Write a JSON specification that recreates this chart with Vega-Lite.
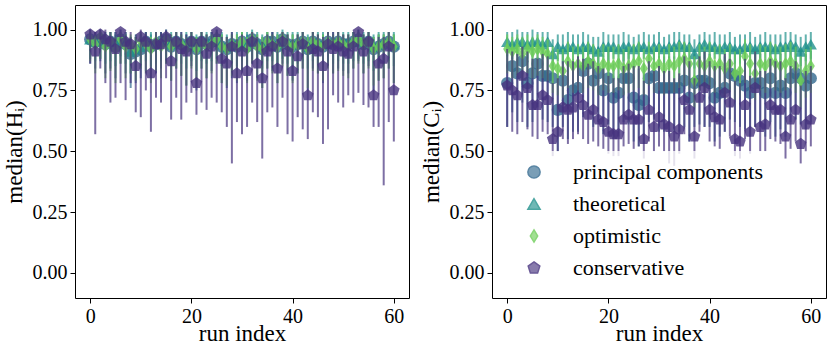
{
"$schema":"https://vega.github.io/schema/vega-lite/v6.json",
"autosize":{"type":"none"},
"padding":{"left":75,"top":5,"right":4,"bottom":48},
"params":[{"name":"width","value":751},{"name":"height","value":293}],
"background":"white",
"spacing":83,
"bounds":"flush",
"datasets":{
"H":[
{"s":"pc","run":0,"med":0.96,"lo":0.86,"hi":0.99},{"s":"pc","run":1,"med":0.95,"lo":0.84,"hi":0.99},{"s":"pc","run":2,"med":0.96,"lo":0.87,"hi":0.99},{"s":"pc","run":3,"med":0.94,"lo":0.82,"hi":0.98},{"s":"pc","run":4,"med":0.95,"lo":0.84,"hi":0.99},{"s":"pc","run":5,"med":0.93,"lo":0.80,"hi":0.98},{"s":"pc","run":6,"med":0.96,"lo":0.86,"hi":0.99},{"s":"pc","run":7,"med":0.94,"lo":0.82,"hi":0.98},{"s":"pc","run":8,"med":0.90,"lo":0.76,"hi":0.97},{"s":"pc","run":9,"med":0.91,"lo":0.78,"hi":0.97},
{"s":"pc","run":10,"med":0.92,"lo":0.80,"hi":0.98},{"s":"pc","run":11,"med":0.95,"lo":0.83,"hi":0.99},{"s":"pc","run":12,"med":0.93,"lo":0.80,"hi":0.98},{"s":"pc","run":13,"med":0.94,"lo":0.82,"hi":0.98},{"s":"pc","run":14,"med":0.95,"lo":0.84,"hi":0.99},{"s":"pc","run":15,"med":0.96,"lo":0.86,"hi":0.99},{"s":"pc","run":16,"med":0.93,"lo":0.79,"hi":0.98},{"s":"pc","run":17,"med":0.95,"lo":0.84,"hi":0.99},{"s":"pc","run":18,"med":0.94,"lo":0.81,"hi":0.98},{"s":"pc","run":19,"med":0.93,"lo":0.77,"hi":0.98},
{"s":"pc","run":20,"med":0.95,"lo":0.85,"hi":0.99},{"s":"pc","run":21,"med":0.92,"lo":0.75,"hi":0.97},{"s":"pc","run":22,"med":0.95,"lo":0.84,"hi":0.99},{"s":"pc","run":23,"med":0.94,"lo":0.80,"hi":0.98},{"s":"pc","run":24,"med":0.95,"lo":0.83,"hi":0.99},{"s":"pc","run":25,"med":0.96,"lo":0.86,"hi":0.99},{"s":"pc","run":26,"med":0.93,"lo":0.78,"hi":0.98},{"s":"pc","run":27,"med":0.92,"lo":0.76,"hi":0.97},{"s":"pc","run":28,"med":0.94,"lo":0.80,"hi":0.98},{"s":"pc","run":29,"med":0.93,"lo":0.78,"hi":0.98},
{"s":"pc","run":30,"med":0.95,"lo":0.83,"hi":0.99},{"s":"pc","run":31,"med":0.93,"lo":0.79,"hi":0.98},{"s":"pc","run":32,"med":0.96,"lo":0.86,"hi":0.99},{"s":"pc","run":33,"med":0.94,"lo":0.80,"hi":0.98},{"s":"pc","run":34,"med":0.92,"lo":0.76,"hi":0.97},{"s":"pc","run":35,"med":0.95,"lo":0.84,"hi":0.99},{"s":"pc","run":36,"med":0.95,"lo":0.83,"hi":0.99},{"s":"pc","run":37,"med":0.93,"lo":0.78,"hi":0.98},{"s":"pc","run":38,"med":0.96,"lo":0.86,"hi":0.99},{"s":"pc","run":39,"med":0.94,"lo":0.81,"hi":0.98},
{"s":"pc","run":40,"med":0.93,"lo":0.79,"hi":0.98},{"s":"pc","run":41,"med":0.94,"lo":0.82,"hi":0.98},{"s":"pc","run":42,"med":0.95,"lo":0.84,"hi":0.99},{"s":"pc","run":43,"med":0.92,"lo":0.75,"hi":0.97},{"s":"pc","run":44,"med":0.95,"lo":0.84,"hi":0.99},{"s":"pc","run":45,"med":0.94,"lo":0.82,"hi":0.98},{"s":"pc","run":46,"med":0.93,"lo":0.78,"hi":0.98},{"s":"pc","run":47,"med":0.95,"lo":0.85,"hi":0.99},{"s":"pc","run":48,"med":0.94,"lo":0.82,"hi":0.98},{"s":"pc","run":49,"med":0.95,"lo":0.84,"hi":0.99},
{"s":"pc","run":50,"med":0.94,"lo":0.83,"hi":0.98},{"s":"pc","run":51,"med":0.94,"lo":0.82,"hi":0.98},{"s":"pc","run":52,"med":0.95,"lo":0.84,"hi":0.99},{"s":"pc","run":53,"med":0.96,"lo":0.87,"hi":0.99},{"s":"pc","run":54,"med":0.94,"lo":0.82,"hi":0.98},{"s":"pc","run":55,"med":0.95,"lo":0.85,"hi":0.99},{"s":"pc","run":56,"med":0.92,"lo":0.75,"hi":0.97},{"s":"pc","run":57,"med":0.93,"lo":0.79,"hi":0.98},{"s":"pc","run":58,"med":0.94,"lo":0.80,"hi":0.98},{"s":"pc","run":59,"med":0.95,"lo":0.84,"hi":0.99},{"s":"pc","run":60,"med":0.93,"lo":0.78,"hi":0.98},
{"s":"th","run":0,"med":0.96,"lo":0.88,"hi":1.0},{"s":"th","run":1,"med":0.95,"lo":0.87,"hi":0.99},{"s":"th","run":2,"med":0.96,"lo":0.88,"hi":1.0},{"s":"th","run":3,"med":0.95,"lo":0.86,"hi":0.99},{"s":"th","run":4,"med":0.95,"lo":0.87,"hi":0.99},{"s":"th","run":5,"med":0.94,"lo":0.85,"hi":0.99},{"s":"th","run":6,"med":0.96,"lo":0.89,"hi":1.0},{"s":"th","run":7,"med":0.95,"lo":0.86,"hi":0.99},{"s":"th","run":8,"med":0.91,"lo":0.82,"hi":0.97},{"s":"th","run":9,"med":0.92,"lo":0.83,"hi":0.98},
{"s":"th","run":10,"med":0.93,"lo":0.84,"hi":0.98},{"s":"th","run":11,"med":0.95,"lo":0.87,"hi":0.99},{"s":"th","run":12,"med":0.94,"lo":0.85,"hi":0.99},{"s":"th","run":13,"med":0.95,"lo":0.86,"hi":0.99},{"s":"th","run":14,"med":0.95,"lo":0.87,"hi":0.99},{"s":"th","run":15,"med":0.96,"lo":0.88,"hi":1.0},{"s":"th","run":16,"med":0.94,"lo":0.85,"hi":0.99},{"s":"th","run":17,"med":0.95,"lo":0.87,"hi":0.99},{"s":"th","run":18,"med":0.95,"lo":0.86,"hi":0.99},{"s":"th","run":19,"med":0.94,"lo":0.84,"hi":0.99},
{"s":"th","run":20,"med":0.95,"lo":0.87,"hi":0.99},{"s":"th","run":21,"med":0.93,"lo":0.83,"hi":0.98},{"s":"th","run":22,"med":0.95,"lo":0.87,"hi":0.99},{"s":"th","run":23,"med":0.95,"lo":0.86,"hi":0.99},{"s":"th","run":24,"med":0.95,"lo":0.87,"hi":0.99},{"s":"th","run":25,"med":0.96,"lo":0.88,"hi":1.0},{"s":"th","run":26,"med":0.94,"lo":0.85,"hi":0.99},{"s":"th","run":27,"med":0.93,"lo":0.84,"hi":0.98},{"s":"th","run":28,"med":0.95,"lo":0.86,"hi":0.99},{"s":"th","run":29,"med":0.94,"lo":0.85,"hi":0.99},
{"s":"th","run":30,"med":0.95,"lo":0.87,"hi":0.99},{"s":"th","run":31,"med":0.94,"lo":0.85,"hi":0.99},{"s":"th","run":32,"med":0.96,"lo":0.88,"hi":1.0},{"s":"th","run":33,"med":0.95,"lo":0.86,"hi":0.99},{"s":"th","run":34,"med":0.93,"lo":0.84,"hi":0.98},{"s":"th","run":35,"med":0.95,"lo":0.87,"hi":0.99},{"s":"th","run":36,"med":0.95,"lo":0.87,"hi":0.99},{"s":"th","run":37,"med":0.94,"lo":0.85,"hi":0.99},{"s":"th","run":38,"med":0.96,"lo":0.88,"hi":1.0},{"s":"th","run":39,"med":0.95,"lo":0.86,"hi":0.99},
{"s":"th","run":40,"med":0.94,"lo":0.85,"hi":0.99},{"s":"th","run":41,"med":0.95,"lo":0.86,"hi":0.99},{"s":"th","run":42,"med":0.95,"lo":0.87,"hi":0.99},{"s":"th","run":43,"med":0.93,"lo":0.84,"hi":0.98},{"s":"th","run":44,"med":0.95,"lo":0.87,"hi":0.99},{"s":"th","run":45,"med":0.95,"lo":0.86,"hi":0.99},{"s":"th","run":46,"med":0.94,"lo":0.85,"hi":0.99},{"s":"th","run":47,"med":0.95,"lo":0.87,"hi":0.99},{"s":"th","run":48,"med":0.95,"lo":0.86,"hi":0.99},{"s":"th","run":49,"med":0.95,"lo":0.87,"hi":0.99},
{"s":"th","run":50,"med":0.95,"lo":0.86,"hi":0.99},{"s":"th","run":51,"med":0.95,"lo":0.86,"hi":0.99},{"s":"th","run":52,"med":0.95,"lo":0.87,"hi":0.99},{"s":"th","run":53,"med":0.96,"lo":0.88,"hi":1.0},{"s":"th","run":54,"med":0.95,"lo":0.86,"hi":0.99},{"s":"th","run":55,"med":0.95,"lo":0.87,"hi":0.99},{"s":"th","run":56,"med":0.93,"lo":0.83,"hi":0.98},{"s":"th","run":57,"med":0.94,"lo":0.85,"hi":0.99},{"s":"th","run":58,"med":0.95,"lo":0.86,"hi":0.99},{"s":"th","run":59,"med":0.95,"lo":0.87,"hi":0.99},{"s":"th","run":60,"med":0.94,"lo":0.85,"hi":0.99},
{"s":"op","run":0,"med":0.96,"lo":0.87,"hi":0.99},{"s":"op","run":1,"med":0.94,"lo":0.82,"hi":0.98},{"s":"op","run":2,"med":0.97,"lo":0.88,"hi":0.99},{"s":"op","run":3,"med":0.93,"lo":0.80,"hi":0.98},{"s":"op","run":4,"med":0.95,"lo":0.83,"hi":0.99},{"s":"op","run":5,"med":0.92,"lo":0.78,"hi":0.97},{"s":"op","run":6,"med":0.96,"lo":0.86,"hi":0.99},{"s":"op","run":7,"med":0.93,"lo":0.80,"hi":0.98},{"s":"op","run":8,"med":0.94,"lo":0.82,"hi":0.98},{"s":"op","run":9,"med":0.92,"lo":0.79,"hi":0.97},
{"s":"op","run":10,"med":0.95,"lo":0.84,"hi":0.99},{"s":"op","run":11,"med":0.94,"lo":0.82,"hi":0.98},{"s":"op","run":12,"med":0.92,"lo":0.78,"hi":0.97},{"s":"op","run":13,"med":0.95,"lo":0.83,"hi":0.99},{"s":"op","run":14,"med":0.93,"lo":0.80,"hi":0.98},{"s":"op","run":15,"med":0.96,"lo":0.86,"hi":0.99},{"s":"op","run":16,"med":0.93,"lo":0.79,"hi":0.98},{"s":"op","run":17,"med":0.95,"lo":0.84,"hi":0.99},{"s":"op","run":18,"med":0.94,"lo":0.81,"hi":0.98},{"s":"op","run":19,"med":0.92,"lo":0.77,"hi":0.97},
{"s":"op","run":20,"med":0.95,"lo":0.84,"hi":0.99},{"s":"op","run":21,"med":0.92,"lo":0.76,"hi":0.97},{"s":"op","run":22,"med":0.95,"lo":0.84,"hi":0.99},{"s":"op","run":23,"med":0.93,"lo":0.80,"hi":0.98},{"s":"op","run":24,"med":0.94,"lo":0.82,"hi":0.98},{"s":"op","run":25,"med":0.96,"lo":0.86,"hi":0.99},{"s":"op","run":26,"med":0.93,"lo":0.78,"hi":0.98},{"s":"op","run":27,"med":0.92,"lo":0.77,"hi":0.97},{"s":"op","run":28,"med":0.94,"lo":0.81,"hi":0.98},{"s":"op","run":29,"med":0.93,"lo":0.79,"hi":0.98},
{"s":"op","run":30,"med":0.95,"lo":0.83,"hi":0.99},{"s":"op","run":31,"med":0.92,"lo":0.78,"hi":0.97},{"s":"op","run":32,"med":0.96,"lo":0.86,"hi":0.99},{"s":"op","run":33,"med":0.93,"lo":0.79,"hi":0.98},{"s":"op","run":34,"med":0.92,"lo":0.76,"hi":0.97},{"s":"op","run":35,"med":0.95,"lo":0.84,"hi":0.99},{"s":"op","run":36,"med":0.94,"lo":0.82,"hi":0.98},{"s":"op","run":37,"med":0.93,"lo":0.78,"hi":0.98},{"s":"op","run":38,"med":0.96,"lo":0.85,"hi":0.99},{"s":"op","run":39,"med":0.94,"lo":0.81,"hi":0.98},
{"s":"op","run":40,"med":0.93,"lo":0.78,"hi":0.98},{"s":"op","run":41,"med":0.94,"lo":0.82,"hi":0.98},{"s":"op","run":42,"med":0.95,"lo":0.84,"hi":0.99},{"s":"op","run":43,"med":0.92,"lo":0.76,"hi":0.97},{"s":"op","run":44,"med":0.95,"lo":0.83,"hi":0.99},{"s":"op","run":45,"med":0.94,"lo":0.82,"hi":0.98},{"s":"op","run":46,"med":0.93,"lo":0.79,"hi":0.98},{"s":"op","run":47,"med":0.95,"lo":0.84,"hi":0.99},{"s":"op","run":48,"med":0.94,"lo":0.82,"hi":0.98},{"s":"op","run":49,"med":0.95,"lo":0.83,"hi":0.99},
{"s":"op","run":50,"med":0.94,"lo":0.81,"hi":0.98},{"s":"op","run":51,"med":0.93,"lo":0.80,"hi":0.98},{"s":"op","run":52,"med":0.95,"lo":0.84,"hi":0.99},{"s":"op","run":53,"med":0.96,"lo":0.86,"hi":0.99},{"s":"op","run":54,"med":0.94,"lo":0.82,"hi":0.98},{"s":"op","run":55,"med":0.95,"lo":0.84,"hi":0.99},{"s":"op","run":56,"med":0.92,"lo":0.77,"hi":0.97},{"s":"op","run":57,"med":0.93,"lo":0.79,"hi":0.98},{"s":"op","run":58,"med":0.94,"lo":0.80,"hi":0.98},{"s":"op","run":59,"med":0.95,"lo":0.84,"hi":0.99},{"s":"op","run":60,"med":0.93,"lo":0.78,"hi":0.98},
{"s":"co","run":0,"med":0.98,"lo":0.86,"hi":1.0},{"s":"co","run":1,"med":0.91,"lo":0.57,"hi":0.99},{"s":"co","run":2,"med":0.98,"lo":0.84,"hi":1.0},{"s":"co","run":3,"med":0.96,"lo":0.78,"hi":1.0},{"s":"co","run":4,"med":0.95,"lo":0.70,"hi":0.99},{"s":"co","run":5,"med":0.92,"lo":0.72,"hi":0.99},{"s":"co","run":6,"med":0.99,"lo":0.78,"hi":1.0},{"s":"co","run":7,"med":0.95,"lo":0.71,"hi":0.99},{"s":"co","run":8,"med":0.94,"lo":0.78,"hi":0.99},{"s":"co","run":9,"med":0.85,"lo":0.66,"hi":0.97},
{"s":"co","run":10,"med":0.97,"lo":0.64,"hi":1.0},{"s":"co","run":11,"med":0.95,"lo":0.75,"hi":0.99},{"s":"co","run":12,"med":0.82,"lo":0.58,"hi":0.96},{"s":"co","run":13,"med":0.94,"lo":0.72,"hi":0.99},{"s":"co","run":14,"med":0.94,"lo":0.70,"hi":0.99},{"s":"co","run":15,"med":0.97,"lo":0.80,"hi":1.0},{"s":"co","run":16,"med":0.87,"lo":0.63,"hi":0.97},{"s":"co","run":17,"med":0.95,"lo":0.72,"hi":0.99},{"s":"co","run":18,"med":0.92,"lo":0.63,"hi":0.99},{"s":"co","run":19,"med":0.91,"lo":0.70,"hi":0.98},
{"s":"co","run":20,"med":0.95,"lo":0.74,"hi":0.99},{"s":"co","run":21,"med":0.78,"lo":0.65,"hi":0.95},{"s":"co","run":22,"med":0.95,"lo":0.70,"hi":0.99},{"s":"co","run":23,"med":0.90,"lo":0.67,"hi":0.98},{"s":"co","run":24,"med":0.93,"lo":0.72,"hi":0.99},{"s":"co","run":25,"med":0.99,"lo":0.70,"hi":1.0},{"s":"co","run":26,"med":0.88,"lo":0.66,"hi":0.97},{"s":"co","run":27,"med":0.86,"lo":0.60,"hi":0.97},{"s":"co","run":28,"med":0.93,"lo":0.45,"hi":0.99},{"s":"co","run":29,"med":0.82,"lo":0.62,"hi":0.96},
{"s":"co","run":30,"med":0.91,"lo":0.57,"hi":0.98},{"s":"co","run":31,"med":0.83,"lo":0.60,"hi":0.96},{"s":"co","run":32,"med":0.95,"lo":0.70,"hi":0.99},{"s":"co","run":33,"med":0.86,"lo":0.62,"hi":0.97},{"s":"co","run":34,"med":0.80,"lo":0.47,"hi":0.95},{"s":"co","run":35,"med":0.91,"lo":0.66,"hi":0.98},{"s":"co","run":36,"med":0.93,"lo":0.68,"hi":0.99},{"s":"co","run":37,"med":0.84,"lo":0.60,"hi":0.96},{"s":"co","run":38,"med":0.95,"lo":0.72,"hi":0.99},{"s":"co","run":39,"med":0.91,"lo":0.57,"hi":0.98},
{"s":"co","run":40,"med":0.83,"lo":0.54,"hi":0.96},{"s":"co","run":41,"med":0.89,"lo":0.64,"hi":0.98},{"s":"co","run":42,"med":0.94,"lo":0.59,"hi":0.99},{"s":"co","run":43,"med":0.73,"lo":0.55,"hi":0.93},{"s":"co","run":44,"med":0.92,"lo":0.66,"hi":0.99},{"s":"co","run":45,"med":0.91,"lo":0.64,"hi":0.98},{"s":"co","run":46,"med":0.85,"lo":0.53,"hi":0.97},{"s":"co","run":47,"med":0.94,"lo":0.59,"hi":0.99},{"s":"co","run":48,"med":0.92,"lo":0.73,"hi":0.99},{"s":"co","run":49,"med":0.93,"lo":0.70,"hi":0.99},
{"s":"co","run":50,"med":0.91,"lo":0.68,"hi":0.98},{"s":"co","run":51,"med":0.90,"lo":0.73,"hi":0.98},{"s":"co","run":52,"med":0.93,"lo":0.70,"hi":0.99},{"s":"co","run":53,"med":0.99,"lo":0.74,"hi":1.0},{"s":"co","run":54,"med":0.91,"lo":0.69,"hi":0.98},{"s":"co","run":55,"med":0.95,"lo":0.68,"hi":0.99},{"s":"co","run":56,"med":0.73,"lo":0.60,"hi":0.93},{"s":"co","run":57,"med":0.86,"lo":0.60,"hi":0.97},{"s":"co","run":58,"med":0.88,"lo":0.36,"hi":0.97},{"s":"co","run":59,"med":0.93,"lo":0.62,"hi":0.99},{"s":"co","run":60,"med":0.75,"lo":0.54,"hi":0.94}
],
"C":[
{"s":"pc","run":0,"med":0.78,"lo":0.60,"hi":0.90},{"s":"pc","run":1,"med":0.85,"lo":0.66,"hi":0.94},{"s":"pc","run":2,"med":0.82,"lo":0.62,"hi":0.93},{"s":"pc","run":3,"med":0.87,"lo":0.70,"hi":0.95},{"s":"pc","run":4,"med":0.78,"lo":0.60,"hi":0.90},{"s":"pc","run":5,"med":0.82,"lo":0.62,"hi":0.93},{"s":"pc","run":6,"med":0.86,"lo":0.68,"hi":0.94},{"s":"pc","run":7,"med":0.81,"lo":0.63,"hi":0.92},{"s":"pc","run":8,"med":0.81,"lo":0.62,"hi":0.92},{"s":"pc","run":9,"med":0.80,"lo":0.60,"hi":0.91},
{"s":"pc","run":10,"med":0.67,"lo":0.50,"hi":0.82},{"s":"pc","run":11,"med":0.79,"lo":0.60,"hi":0.91},{"s":"pc","run":12,"med":0.71,"lo":0.55,"hi":0.86},{"s":"pc","run":13,"med":0.75,"lo":0.58,"hi":0.88},{"s":"pc","run":14,"med":0.76,"lo":0.58,"hi":0.89},{"s":"pc","run":15,"med":0.83,"lo":0.64,"hi":0.93},{"s":"pc","run":16,"med":0.86,"lo":0.68,"hi":0.94},{"s":"pc","run":17,"med":0.79,"lo":0.60,"hi":0.91},{"s":"pc","run":18,"med":0.82,"lo":0.62,"hi":0.93},{"s":"pc","run":19,"med":0.75,"lo":0.57,"hi":0.88},
{"s":"pc","run":20,"med":0.80,"lo":0.61,"hi":0.91},{"s":"pc","run":21,"med":0.72,"lo":0.55,"hi":0.86},{"s":"pc","run":22,"med":0.74,"lo":0.56,"hi":0.88},{"s":"pc","run":23,"med":0.80,"lo":0.62,"hi":0.91},{"s":"pc","run":24,"med":0.80,"lo":0.61,"hi":0.91},{"s":"pc","run":25,"med":0.72,"lo":0.54,"hi":0.86},{"s":"pc","run":26,"med":0.69,"lo":0.52,"hi":0.84},{"s":"pc","run":27,"med":0.71,"lo":0.53,"hi":0.86},{"s":"pc","run":28,"med":0.80,"lo":0.62,"hi":0.91},{"s":"pc","run":29,"med":0.81,"lo":0.63,"hi":0.92},
{"s":"pc","run":30,"med":0.76,"lo":0.58,"hi":0.89},{"s":"pc","run":31,"med":0.76,"lo":0.58,"hi":0.89},{"s":"pc","run":32,"med":0.76,"lo":0.57,"hi":0.89},{"s":"pc","run":33,"med":0.76,"lo":0.58,"hi":0.89},{"s":"pc","run":34,"med":0.76,"lo":0.58,"hi":0.89},{"s":"pc","run":35,"med":0.79,"lo":0.60,"hi":0.91},{"s":"pc","run":36,"med":0.72,"lo":0.54,"hi":0.86},{"s":"pc","run":37,"med":0.78,"lo":0.60,"hi":0.90},{"s":"pc","run":38,"med":0.79,"lo":0.61,"hi":0.91},{"s":"pc","run":39,"med":0.79,"lo":0.60,"hi":0.91},
{"s":"pc","run":40,"med":0.78,"lo":0.60,"hi":0.90},{"s":"pc","run":41,"med":0.72,"lo":0.54,"hi":0.86},{"s":"pc","run":42,"med":0.74,"lo":0.56,"hi":0.88},{"s":"pc","run":43,"med":0.76,"lo":0.58,"hi":0.89},{"s":"pc","run":44,"med":0.82,"lo":0.63,"hi":0.93},{"s":"pc","run":45,"med":0.81,"lo":0.62,"hi":0.92},{"s":"pc","run":46,"med":0.79,"lo":0.60,"hi":0.91},{"s":"pc","run":47,"med":0.77,"lo":0.59,"hi":0.90},{"s":"pc","run":48,"med":0.74,"lo":0.56,"hi":0.88},{"s":"pc","run":49,"med":0.78,"lo":0.60,"hi":0.90},
{"s":"pc","run":50,"med":0.78,"lo":0.60,"hi":0.90},{"s":"pc","run":51,"med":0.74,"lo":0.56,"hi":0.88},{"s":"pc","run":52,"med":0.80,"lo":0.62,"hi":0.91},{"s":"pc","run":53,"med":0.74,"lo":0.56,"hi":0.88},{"s":"pc","run":54,"med":0.77,"lo":0.59,"hi":0.90},{"s":"pc","run":55,"med":0.74,"lo":0.56,"hi":0.88},{"s":"pc","run":56,"med":0.80,"lo":0.62,"hi":0.91},{"s":"pc","run":57,"med":0.82,"lo":0.63,"hi":0.93},{"s":"pc","run":58,"med":0.80,"lo":0.61,"hi":0.91},{"s":"pc","run":59,"med":0.77,"lo":0.59,"hi":0.90},{"s":"pc","run":60,"med":0.80,"lo":0.62,"hi":0.91},
{"s":"th","run":0,"med":0.95,"lo":0.89,"hi":0.99},{"s":"th","run":1,"med":0.94,"lo":0.88,"hi":0.99},{"s":"th","run":2,"med":0.95,"lo":0.89,"hi":1.0},{"s":"th","run":3,"med":0.95,"lo":0.90,"hi":0.99},{"s":"th","run":4,"med":0.94,"lo":0.88,"hi":0.99},{"s":"th","run":5,"med":0.95,"lo":0.89,"hi":1.0},{"s":"th","run":6,"med":0.95,"lo":0.90,"hi":0.99},{"s":"th","run":7,"med":0.94,"lo":0.88,"hi":0.99},{"s":"th","run":8,"med":0.95,"lo":0.89,"hi":0.99},{"s":"th","run":9,"med":0.90,"lo":0.85,"hi":0.96},
{"s":"th","run":10,"med":0.93,"lo":0.87,"hi":0.98},{"s":"th","run":11,"med":0.92,"lo":0.86,"hi":0.98},{"s":"th","run":12,"med":0.93,"lo":0.88,"hi":0.99},{"s":"th","run":13,"med":0.93,"lo":0.87,"hi":0.98},{"s":"th","run":14,"med":0.92,"lo":0.86,"hi":0.98},{"s":"th","run":15,"med":0.93,"lo":0.88,"hi":0.99},{"s":"th","run":16,"med":0.93,"lo":0.87,"hi":0.98},{"s":"th","run":17,"med":0.92,"lo":0.86,"hi":0.97},{"s":"th","run":18,"med":0.91,"lo":0.85,"hi":0.97},{"s":"th","run":19,"med":0.93,"lo":0.88,"hi":0.99},
{"s":"th","run":20,"med":0.93,"lo":0.87,"hi":0.98},{"s":"th","run":21,"med":0.93,"lo":0.88,"hi":0.98},{"s":"th","run":22,"med":0.92,"lo":0.86,"hi":0.98},{"s":"th","run":23,"med":0.93,"lo":0.87,"hi":0.99},{"s":"th","run":24,"med":0.93,"lo":0.88,"hi":0.98},{"s":"th","run":25,"med":0.92,"lo":0.86,"hi":0.97},{"s":"th","run":26,"med":0.93,"lo":0.87,"hi":0.98},{"s":"th","run":27,"med":0.93,"lo":0.88,"hi":0.99},{"s":"th","run":28,"med":0.92,"lo":0.86,"hi":0.98},{"s":"th","run":29,"med":0.93,"lo":0.87,"hi":0.98},
{"s":"th","run":30,"med":0.93,"lo":0.88,"hi":0.99},{"s":"th","run":31,"med":0.92,"lo":0.86,"hi":0.97},{"s":"th","run":32,"med":0.93,"lo":0.87,"hi":0.98},{"s":"th","run":33,"med":0.93,"lo":0.88,"hi":0.99},{"s":"th","run":34,"med":0.94,"lo":0.88,"hi":0.99},{"s":"th","run":35,"med":0.93,"lo":0.87,"hi":0.98},{"s":"th","run":36,"med":0.93,"lo":0.88,"hi":0.98},{"s":"th","run":37,"med":0.90,"lo":0.84,"hi":0.96},{"s":"th","run":38,"med":0.93,"lo":0.87,"hi":0.98},{"s":"th","run":39,"med":0.94,"lo":0.88,"hi":0.99},
{"s":"th","run":40,"med":0.93,"lo":0.87,"hi":0.98},{"s":"th","run":41,"med":0.93,"lo":0.88,"hi":0.99},{"s":"th","run":42,"med":0.92,"lo":0.86,"hi":0.98},{"s":"th","run":43,"med":0.93,"lo":0.87,"hi":0.98},{"s":"th","run":44,"med":0.93,"lo":0.88,"hi":0.99},{"s":"th","run":45,"med":0.92,"lo":0.86,"hi":0.97},{"s":"th","run":46,"med":0.92,"lo":0.86,"hi":0.98},{"s":"th","run":47,"med":0.93,"lo":0.87,"hi":0.98},{"s":"th","run":48,"med":0.93,"lo":0.88,"hi":0.99},{"s":"th","run":49,"med":0.92,"lo":0.86,"hi":0.97},
{"s":"th","run":50,"med":0.93,"lo":0.87,"hi":0.98},{"s":"th","run":51,"med":0.93,"lo":0.88,"hi":0.99},{"s":"th","run":52,"med":0.93,"lo":0.87,"hi":0.98},{"s":"th","run":53,"med":0.92,"lo":0.86,"hi":0.98},{"s":"th","run":54,"med":0.93,"lo":0.87,"hi":0.98},{"s":"th","run":55,"med":0.93,"lo":0.88,"hi":0.99},{"s":"th","run":56,"med":0.94,"lo":0.88,"hi":0.99},{"s":"th","run":57,"med":0.93,"lo":0.87,"hi":0.98},{"s":"th","run":58,"med":0.91,"lo":0.85,"hi":0.97},{"s":"th","run":59,"med":0.93,"lo":0.87,"hi":0.98},{"s":"th","run":60,"med":0.94,"lo":0.88,"hi":0.99},
{"s":"op","run":0,"med":0.92,"lo":0.82,"hi":0.98},{"s":"op","run":1,"med":0.91,"lo":0.80,"hi":0.97},{"s":"op","run":2,"med":0.92,"lo":0.81,"hi":0.98},{"s":"op","run":3,"med":0.90,"lo":0.79,"hi":0.97},{"s":"op","run":4,"med":0.92,"lo":0.82,"hi":0.98},{"s":"op","run":5,"med":0.91,"lo":0.80,"hi":0.97},{"s":"op","run":6,"med":0.92,"lo":0.81,"hi":0.98},{"s":"op","run":7,"med":0.91,"lo":0.80,"hi":0.97},{"s":"op","run":8,"med":0.90,"lo":0.79,"hi":0.96},{"s":"op","run":9,"med":0.85,"lo":0.74,"hi":0.93},
{"s":"op","run":10,"med":0.84,"lo":0.73,"hi":0.92},{"s":"op","run":11,"med":0.83,"lo":0.72,"hi":0.92},{"s":"op","run":12,"med":0.87,"lo":0.76,"hi":0.95},{"s":"op","run":13,"med":0.85,"lo":0.74,"hi":0.93},{"s":"op","run":14,"med":0.86,"lo":0.75,"hi":0.94},{"s":"op","run":15,"med":0.85,"lo":0.74,"hi":0.93},{"s":"op","run":16,"med":0.87,"lo":0.76,"hi":0.95},{"s":"op","run":17,"med":0.86,"lo":0.75,"hi":0.94},{"s":"op","run":18,"med":0.84,"lo":0.73,"hi":0.92},{"s":"op","run":19,"med":0.86,"lo":0.75,"hi":0.94},
{"s":"op","run":20,"med":0.85,"lo":0.74,"hi":0.93},{"s":"op","run":21,"med":0.85,"lo":0.74,"hi":0.93},{"s":"op","run":22,"med":0.86,"lo":0.75,"hi":0.94},{"s":"op","run":23,"med":0.84,"lo":0.73,"hi":0.92},{"s":"op","run":24,"med":0.85,"lo":0.74,"hi":0.93},{"s":"op","run":25,"med":0.86,"lo":0.75,"hi":0.94},{"s":"op","run":26,"med":0.87,"lo":0.76,"hi":0.95},{"s":"op","run":27,"med":0.84,"lo":0.73,"hi":0.92},{"s":"op","run":28,"med":0.88,"lo":0.77,"hi":0.95},{"s":"op","run":29,"med":0.85,"lo":0.74,"hi":0.93},
{"s":"op","run":30,"med":0.86,"lo":0.75,"hi":0.94},{"s":"op","run":31,"med":0.84,"lo":0.73,"hi":0.92},{"s":"op","run":32,"med":0.86,"lo":0.75,"hi":0.94},{"s":"op","run":33,"med":0.85,"lo":0.74,"hi":0.93},{"s":"op","run":34,"med":0.87,"lo":0.76,"hi":0.95},{"s":"op","run":35,"med":0.88,"lo":0.77,"hi":0.95},{"s":"op","run":36,"med":0.86,"lo":0.75,"hi":0.94},{"s":"op","run":37,"med":0.79,"lo":0.68,"hi":0.89},{"s":"op","run":38,"med":0.86,"lo":0.75,"hi":0.94},{"s":"op","run":39,"med":0.85,"lo":0.74,"hi":0.93},
{"s":"op","run":40,"med":0.87,"lo":0.76,"hi":0.95},{"s":"op","run":41,"med":0.85,"lo":0.74,"hi":0.93},{"s":"op","run":42,"med":0.86,"lo":0.75,"hi":0.94},{"s":"op","run":43,"med":0.84,"lo":0.73,"hi":0.92},{"s":"op","run":44,"med":0.86,"lo":0.75,"hi":0.94},{"s":"op","run":45,"med":0.82,"lo":0.71,"hi":0.91},{"s":"op","run":46,"med":0.83,"lo":0.72,"hi":0.92},{"s":"op","run":47,"med":0.89,"lo":0.78,"hi":0.96},{"s":"op","run":48,"med":0.86,"lo":0.75,"hi":0.94},{"s":"op","run":49,"med":0.82,"lo":0.71,"hi":0.91},
{"s":"op","run":50,"med":0.86,"lo":0.75,"hi":0.94},{"s":"op","run":51,"med":0.85,"lo":0.74,"hi":0.93},{"s":"op","run":52,"med":0.87,"lo":0.76,"hi":0.95},{"s":"op","run":53,"med":0.86,"lo":0.75,"hi":0.94},{"s":"op","run":54,"med":0.85,"lo":0.74,"hi":0.93},{"s":"op","run":55,"med":0.86,"lo":0.75,"hi":0.94},{"s":"op","run":56,"med":0.87,"lo":0.76,"hi":0.95},{"s":"op","run":57,"med":0.85,"lo":0.74,"hi":0.93},{"s":"op","run":58,"med":0.79,"lo":0.68,"hi":0.89},{"s":"op","run":59,"med":0.83,"lo":0.72,"hi":0.92},{"s":"op","run":60,"med":0.85,"lo":0.74,"hi":0.93},
{"s":"co","run":0,"med":0.77,"lo":0.60,"hi":0.92},{"s":"co","run":1,"med":0.75,"lo":0.58,"hi":0.91},{"s":"co","run":2,"med":0.73,"lo":0.57,"hi":0.90},{"s":"co","run":3,"med":0.81,"lo":0.62,"hi":0.93},{"s":"co","run":4,"med":0.76,"lo":0.59,"hi":0.91},{"s":"co","run":5,"med":0.69,"lo":0.56,"hi":0.88},{"s":"co","run":6,"med":0.69,"lo":0.55,"hi":0.88},{"s":"co","run":7,"med":0.73,"lo":0.58,"hi":0.90},{"s":"co","run":8,"med":0.71,"lo":0.57,"hi":0.89},{"s":"co","run":9,"med":0.55,"lo":0.48,"hi":0.78},
{"s":"co","run":10,"med":0.58,"lo":0.50,"hi":0.80},{"s":"co","run":11,"med":0.68,"lo":0.55,"hi":0.87},{"s":"co","run":12,"med":0.67,"lo":0.53,"hi":0.87},{"s":"co","run":13,"med":0.68,"lo":0.55,"hi":0.87},{"s":"co","run":14,"med":0.72,"lo":0.57,"hi":0.89},{"s":"co","run":15,"med":0.69,"lo":0.55,"hi":0.88},{"s":"co","run":16,"med":0.65,"lo":0.53,"hi":0.86},{"s":"co","run":17,"med":0.67,"lo":0.54,"hi":0.87},{"s":"co","run":18,"med":0.63,"lo":0.52,"hi":0.85},{"s":"co","run":19,"med":0.62,"lo":0.51,"hi":0.84},
{"s":"co","run":20,"med":0.58,"lo":0.49,"hi":0.81},{"s":"co","run":21,"med":0.57,"lo":0.48,"hi":0.80},{"s":"co","run":22,"med":0.57,"lo":0.48,"hi":0.80},{"s":"co","run":23,"med":0.63,"lo":0.52,"hi":0.85},{"s":"co","run":24,"med":0.65,"lo":0.53,"hi":0.86},{"s":"co","run":25,"med":0.63,"lo":0.51,"hi":0.85},{"s":"co","run":26,"med":0.63,"lo":0.52,"hi":0.85},{"s":"co","run":27,"med":0.55,"lo":0.47,"hi":0.79},{"s":"co","run":28,"med":0.67,"lo":0.54,"hi":0.87},{"s":"co","run":29,"med":0.60,"lo":0.50,"hi":0.83},
{"s":"co","run":30,"med":0.64,"lo":0.52,"hi":0.85},{"s":"co","run":31,"med":0.61,"lo":0.50,"hi":0.83},{"s":"co","run":32,"med":0.60,"lo":0.45,"hi":0.83},{"s":"co","run":33,"med":0.56,"lo":0.44,"hi":0.80},{"s":"co","run":34,"med":0.59,"lo":0.49,"hi":0.82},{"s":"co","run":35,"med":0.71,"lo":0.57,"hi":0.89},{"s":"co","run":36,"med":0.67,"lo":0.54,"hi":0.87},{"s":"co","run":37,"med":0.56,"lo":0.47,"hi":0.80},{"s":"co","run":38,"med":0.72,"lo":0.58,"hi":0.89},{"s":"co","run":39,"med":0.76,"lo":0.60,"hi":0.91},
{"s":"co","run":40,"med":0.67,"lo":0.54,"hi":0.87},{"s":"co","run":41,"med":0.64,"lo":0.52,"hi":0.85},{"s":"co","run":42,"med":0.63,"lo":0.51,"hi":0.85},{"s":"co","run":43,"med":0.74,"lo":0.58,"hi":0.90},{"s":"co","run":44,"med":0.70,"lo":0.56,"hi":0.88},{"s":"co","run":45,"med":0.55,"lo":0.48,"hi":0.79},{"s":"co","run":46,"med":0.54,"lo":0.47,"hi":0.78},{"s":"co","run":47,"med":0.69,"lo":0.55,"hi":0.88},{"s":"co","run":48,"med":0.58,"lo":0.49,"hi":0.81},{"s":"co","run":49,"med":0.76,"lo":0.60,"hi":0.91},
{"s":"co","run":50,"med":0.60,"lo":0.50,"hi":0.83},{"s":"co","run":51,"med":0.61,"lo":0.50,"hi":0.83},{"s":"co","run":52,"med":0.69,"lo":0.55,"hi":0.88},{"s":"co","run":53,"med":0.67,"lo":0.54,"hi":0.87},{"s":"co","run":54,"med":0.67,"lo":0.53,"hi":0.87},{"s":"co","run":55,"med":0.56,"lo":0.47,"hi":0.80},{"s":"co","run":56,"med":0.63,"lo":0.51,"hi":0.85},{"s":"co","run":57,"med":0.67,"lo":0.54,"hi":0.87},{"s":"co","run":58,"med":0.53,"lo":0.45,"hi":0.77},{"s":"co","run":59,"med":0.61,"lo":0.50,"hi":0.83},{"s":"co","run":60,"med":0.63,"lo":0.52,"hi":0.85}
]
},
"config":{
"view":{"stroke":"black","strokeWidth":1},
"font":"Liberation Serif",
"axis":{"grid":false,"domain":false,"tickColor":"black","tickSize":5,"tickWidth":1,"labelFont":"Liberation Serif","labelFontSize":20,"labelColor":"black","titleFont":"Liberation Serif","titleFontSize":23,"titleFontWeight":"normal","titleColor":"black"},
"axisX":{"labelPadding":3,"titlePadding":-4},
"axisY":{"labelPadding":3,"titlePadding":6},
"legend":{"labelFont":"Liberation Serif","labelFontSize":22,"labelColor":"black","labelLimit":400}
},
"resolve":{"scale":{"color":"independent","shape":"independent"},"legend":{"color":"independent","shape":"independent"}},
"hconcat":[
{
"width":334,"height":293,
"data":{"name":"H"},
"encoding":{
"x":{"field":"run","type":"quantitative","title":"run index","scale":{"domain":[-3,63],"nice":false,"zero":false},"axis":{"values":[0,20,40,60]}},
"color":{"field":"s","type":"nominal","scale":{"domain":["pc","th","op","co"],"range":["#31688e","#21918c","#6ece58","#46327e"]},"legend":null}
},
"layer":[
{"transform":[{"filter":"datum.s=='pc'"}],"mark":{"type":"rule","strokeWidth":2,"opacity":0.7},"encoding":{"y":{"field":"lo","type":"quantitative","title":"median(Hᵢ)","scale":{"domain":[-0.103,1.101],"nice":false,"zero":false},"axis":{"values":[0,0.25,0.5,0.75,1],"format":".2f"}},"y2":{"field":"hi"}}},
{"transform":[{"filter":"datum.s=='pc'"}],"mark":{"type":"point","filled":true,"opacity":0.8,"size":150},"encoding":{"y":{"field":"med","type":"quantitative"},"shape":{"field":"s","type":"nominal","scale":{"domain":["pc","th","op","co"],"range":["circle","triangle-up","M0,-1L0.6,0L0,1L-0.6,0Z","M0,-1L0.951,-0.309L0.588,0.809L-0.588,0.809L-0.951,-0.309Z"]},"legend":null}}},
{"transform":[{"filter":"datum.s=='th'"}],"mark":{"type":"rule","strokeWidth":2,"opacity":0.7},"encoding":{"y":{"field":"lo","type":"quantitative"},"y2":{"field":"hi"}}},
{"transform":[{"filter":"datum.s=='th'"}],"mark":{"type":"point","filled":true,"opacity":0.8,"size":150},"encoding":{"y":{"field":"med","type":"quantitative"},"shape":{"field":"s","type":"nominal","scale":{"domain":["pc","th","op","co"],"range":["circle","triangle-up","M0,-1L0.6,0L0,1L-0.6,0Z","M0,-1L0.951,-0.309L0.588,0.809L-0.588,0.809L-0.951,-0.309Z"]},"legend":null}}},
{"transform":[{"filter":"datum.s=='op'"}],"mark":{"type":"rule","strokeWidth":2,"opacity":0.7},"encoding":{"y":{"field":"lo","type":"quantitative"},"y2":{"field":"hi"}}},
{"transform":[{"filter":"datum.s=='op'"}],"mark":{"type":"point","filled":true,"opacity":0.8,"size":180},"encoding":{"y":{"field":"med","type":"quantitative"},"shape":{"field":"s","type":"nominal","scale":{"domain":["pc","th","op","co"],"range":["circle","triangle-up","M0,-1L0.6,0L0,1L-0.6,0Z","M0,-1L0.951,-0.309L0.588,0.809L-0.588,0.809L-0.951,-0.309Z"]},"legend":null}}},
{"transform":[{"filter":"datum.s=='co'"}],"mark":{"type":"rule","strokeWidth":2,"opacity":0.7},"encoding":{"y":{"field":"lo","type":"quantitative"},"y2":{"field":"hi"}}},
{"transform":[{"filter":"datum.s=='co'"}],"mark":{"type":"point","filled":true,"opacity":0.8,"size":150},"encoding":{"y":{"field":"med","type":"quantitative"},"shape":{"field":"s","type":"nominal","scale":{"domain":["pc","th","op","co"],"range":["circle","triangle-up","M0,-1L0.6,0L0,1L-0.6,0Z","M0,-1L0.951,-0.309L0.588,0.809L-0.588,0.809L-0.951,-0.309Z"]},"legend":null}}}
]
},
{
"width":334,"height":293,
"data":{"name":"C"},
"encoding":{
"x":{"field":"run","type":"quantitative","title":"run index","scale":{"domain":[-3,63],"nice":false,"zero":false},"axis":{"values":[0,20,40,60]}},
"color":{"field":"s","type":"nominal","scale":{"domain":["pc","th","op","co"],"range":["#31688e","#21918c","#6ece58","#46327e"]},"legend":{"orient":"none","legendX":21,"legendY":146,"title":null,"padding":10,"rowPadding":10,"labelOffset":28,"symbolSize":150,"symbolOpacity":0.8,"fillColor":"rgba(255,255,255,0.8)","labelExpr":"datum.label=='pc'?'principal components':datum.label=='th'?'theoretical':datum.label=='op'?'optimistic':'conservative'"}}
},
"layer":[
{"transform":[{"filter":"datum.s=='pc'"}],"mark":{"type":"rule","strokeWidth":2,"opacity":0.7},"encoding":{"y":{"field":"lo","type":"quantitative","title":"median(Cᵢ)","scale":{"domain":[-0.103,1.101],"nice":false,"zero":false},"axis":{"values":[0,0.25,0.5,0.75,1],"format":".2f"}},"y2":{"field":"hi"}}},
{"transform":[{"filter":"datum.s=='pc'"}],"mark":{"type":"point","filled":true,"opacity":0.8,"size":150},"encoding":{"y":{"field":"med","type":"quantitative"},"shape":{"field":"s","type":"nominal","scale":{"domain":["pc","th","op","co"],"range":["circle","triangle-up","M0,-1L0.6,0L0,1L-0.6,0Z","M0,-1L0.951,-0.309L0.588,0.809L-0.588,0.809L-0.951,-0.309Z"]}}}},
{"transform":[{"filter":"datum.s=='th'"}],"mark":{"type":"rule","strokeWidth":2,"opacity":0.7},"encoding":{"y":{"field":"lo","type":"quantitative"},"y2":{"field":"hi"}}},
{"transform":[{"filter":"datum.s=='th'"}],"mark":{"type":"point","filled":true,"opacity":0.8,"size":150},"encoding":{"y":{"field":"med","type":"quantitative"},"shape":{"field":"s","type":"nominal","scale":{"domain":["pc","th","op","co"],"range":["circle","triangle-up","M0,-1L0.6,0L0,1L-0.6,0Z","M0,-1L0.951,-0.309L0.588,0.809L-0.588,0.809L-0.951,-0.309Z"]}}}},
{"transform":[{"filter":"datum.s=='op'"}],"mark":{"type":"rule","strokeWidth":2,"opacity":0.7},"encoding":{"y":{"field":"lo","type":"quantitative"},"y2":{"field":"hi"}}},
{"transform":[{"filter":"datum.s=='op'"}],"mark":{"type":"point","filled":true,"opacity":0.8,"size":180},"encoding":{"y":{"field":"med","type":"quantitative"},"shape":{"field":"s","type":"nominal","scale":{"domain":["pc","th","op","co"],"range":["circle","triangle-up","M0,-1L0.6,0L0,1L-0.6,0Z","M0,-1L0.951,-0.309L0.588,0.809L-0.588,0.809L-0.951,-0.309Z"]}}}},
{"transform":[{"filter":"datum.s=='co'"}],"mark":{"type":"rule","strokeWidth":2,"opacity":0.7},"encoding":{"y":{"field":"lo","type":"quantitative"},"y2":{"field":"hi"}}},
{"transform":[{"filter":"datum.s=='co'"}],"mark":{"type":"point","filled":true,"opacity":0.8,"size":150},"encoding":{"y":{"field":"med","type":"quantitative"},"shape":{"field":"s","type":"nominal","scale":{"domain":["pc","th","op","co"],"range":["circle","triangle-up","M0,-1L0.6,0L0,1L-0.6,0Z","M0,-1L0.951,-0.309L0.588,0.809L-0.588,0.809L-0.951,-0.309Z"]}}}}
]
}
]
}
